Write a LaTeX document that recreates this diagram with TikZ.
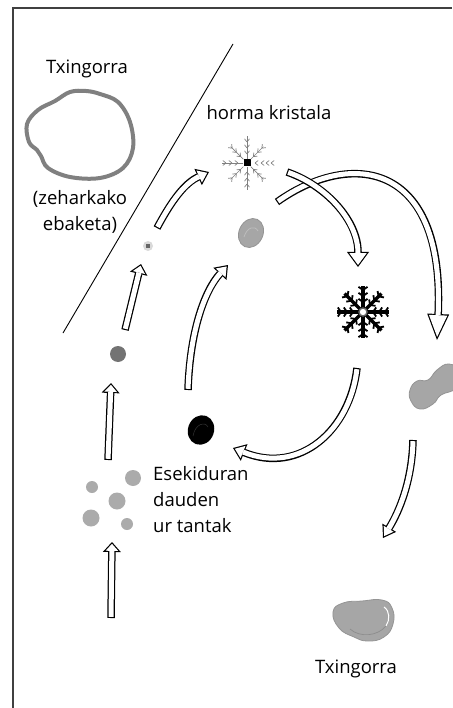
\documentclass[tikz,border=0pt]{standalone}
\usepackage{fontspec}
\setmainfont{Open Sans}
\usepackage{tikz}
\usetikzlibrary{arrows.meta,calc}

\begin{document}
\begin{tikzpicture}[x=1pt,y=-1pt,
  txt/.style={font=\fontsize{18.5}{26}\selectfont, inner sep=0pt},
  drop/.style={circle, fill=black!33, inner sep=0pt},
  lite/.style={black!50, line width=0.7pt},
  blob/.style={fill=black!35, draw=black!42, line width=0.8pt},
  harrow/.style n args={5}{
    preaction={draw=black, line width=7.5pt, shorten <=0pt, shorten >=0pt,
      -{Triangle[length=#1 0 0, width=#2 0 0, line width=0pt 0 0]}},
    draw=white, line width=5pt, shorten <=1.2pt, shorten >=#3,
    -{Triangle[length=#4 0 0, width=#5 0 0, line width=0pt 0 0]}},
  small arrow/.style={harrow={10pt}{18pt}{1.8pt}{7pt}{12.6pt}},
  mid arrow/.style={harrow={12pt}{18pt}{2pt}{8.8pt}{13.2pt}}]
\useasboundingbox (0,0) rectangle (452,708);
\draw[black!75, line width=1.6pt] (13,708) -- (13,8) -- (452,8);
\draw[line width=0.9pt] (233,44) -- (63,333);

% hailstone cut open
\draw[black!50, line width=4pt] plot[smooth cycle, tension=0.6] coordinates {(27,124) (38,110) (55,101) (70,92) (86,91) (100,94) (118,102) (130,122) (133,148) (123,168) (100,178) (70,177) (48,168) (41,156) (37,150) (29,142)};
\node[txt, anchor=base] (hail1) at (87,74) {Txingorra};
\node[txt, align=center] (cut) at (80,212) {(zeharkako\\ebaketa)};
\node[txt, anchor=base] (crystal) at (269,120) {horma kristala};

% water drops
\node[drop, minimum size=16pt] (d1) at (133,478) {};
\node[drop, minimum size=12pt] (d2) at (92,487) {};
\node[drop, minimum size=17pt] (d3) at (117,501) {};
\node[drop, minimum size=17pt] (d4) at (91,518) {};
\node[drop, minimum size=12pt] (d5) at (127,524) {};
\node[txt, align=left, anchor=west] (drops) at (153,500) {Esekiduran\\dauden\\ur tantak};

\node[circle, fill=black!55, inner sep=0pt, minimum size=16pt] (dot) at (118,354) {};
\node[circle, fill=black!15, inner sep=0pt, minimum size=10pt] (grain) at (148,246) {};
\node[fill=black!60, inner sep=0pt, minimum size=4.5pt] (core) at (grain) {};

% light ice crystal
\node[fill=black, inner sep=0pt, minimum size=7pt] (ice) at (247,163) {};
\foreach \a/\r in {45/23,90/27,135/23,180/25,225/23,270/27,315/23}{
  \draw[lite] (ice) -- ($(ice)+(\a:\r)$);
  \foreach \p in {9,15,21}
    \draw[lite] ($(ice)+(\a:\p)$) -- +(\a+38:4) ($(ice)+(\a:\p)$) -- +(\a-38:4);
}
\foreach \p in {8,14,19,24}
  \draw[lite] ($(ice)+(\p,0)$) -- +(38:4) ($(ice)+(\p,0)$) -- +(-38:4);

% dark ice crystal
\coordinate (star) at (363,312);
\foreach \a in {0,45,...,315}{
  \draw[line width=3.5pt] (star) -- ($(star)+(\a:26)$);
  \foreach \p in {10,16,22}
    \draw[line width=1.8pt] ($(star)+(\a:\p)$) -- +(\a+55:5.5) ($(star)+(\a:\p)$) -- +(\a-55:5.5);
}
\node[circle, draw=black!60, fill=white, line width=1.4pt, inner sep=0pt, minimum size=8pt] (starc) at (star) {};

% graupel and hail
\coordinate (graupel) at (251,233);
\filldraw[blob, rotate around={-25:(graupel)}] (graupel) ellipse (12 and 15);
\draw[black!25, line width=0.7pt] ($(graupel)+(-7,4)$) .. controls ($(graupel)+(-4,-6)$) and ($(graupel)+(4,-8)$) .. ($(graupel)+(7,-2)$);

\coordinate (frozen) at (201,430);
\fill[black, rotate around={-20:(frozen)}] (frozen) ellipse (13 and 15);
\draw[black!80, line width=0.5pt] ($(frozen)+(-8,6)$) .. controls ($(frozen)+(-6,-6)$) and ($(frozen)+(4,-9)$) .. ($(frozen)+(7,-3)$);

\coordinate (lump) at (432,388);
\filldraw[blob] plot[smooth cycle, tension=0.8] coordinates {(410,390) (417,381) (428,380) (437,370) (449,364) (460,372) (456,388) (441,395) (433,404) (420,409) (411,401)};

\coordinate (hail2) at (362,620);
\filldraw[blob] plot[smooth cycle, tension=0.8] coordinates {(333,612) (343,603) (362,601) (382,600) (392,608) (393,624) (384,637) (368,641) (354,637) (339,628)};
\draw[white, line width=1pt] (384,607) .. controls (390,611) and (390,620) .. (386,626);
\draw[black!45, line width=0.7pt] (350,629) .. controls (360,638) and (378,636) .. (386,626);
\node[txt, anchor=base] (hail2txt) at (356,673) {Txingorra};

% arrows
\coordinate (a1s) at (111,618); \coordinate (a1e) at (112,542);
\coordinate (a2s) at (108,460); \coordinate (a2e) at (111,383);
\coordinate (a3s) at (125,330); \coordinate (a3e) at (141,264);
\coordinate (a4s) at (157,228); \coordinate (a4e) at (209,172);
\coordinate (a5s) at (188,390); \coordinate (a5e) at (228,265);
\coordinate (a6s) at (287,172); \coordinate (a6e) at (358,267);
\coordinate (a7s) at (277,202); \coordinate (a7e) at (437,340);
\coordinate (a8s) at (357,368); \coordinate (a8e) at (233,448);
\coordinate (a9s) at (413,440); \coordinate (a9e) at (383,538);

\draw[small arrow] (a1s) -- (a1e);
\draw[small arrow] (a2s) -- (a2e);
\draw[small arrow] (a3s) -- (a3e);
\draw[mid arrow] (a4s) .. controls (172,200) and (185,183) .. (a4e);
\draw[mid arrow] (a5s) .. controls (190,330) and (205,290) .. (a5e);
\draw[harrow={26pt}{22pt}{3.1pt}{21.7pt}{18.4pt}] (a7s) .. controls (350,150) and (445,160) .. (a7e);
\draw[harrow={15pt}{22pt}{2pt}{11.8pt}{17.3pt}] (a6s) .. controls (325,185) and (358,220) .. (a6e);
\draw[mid arrow] (a8s) .. controls (350,430) and (300,475) .. (a8e);
\draw[harrow={12pt}{16pt}{2.2pt}{8.6pt}{11.5pt}] (a9s) .. controls (412,480) and (400,510) .. (a9e);
\end{tikzpicture}
\end{document}
